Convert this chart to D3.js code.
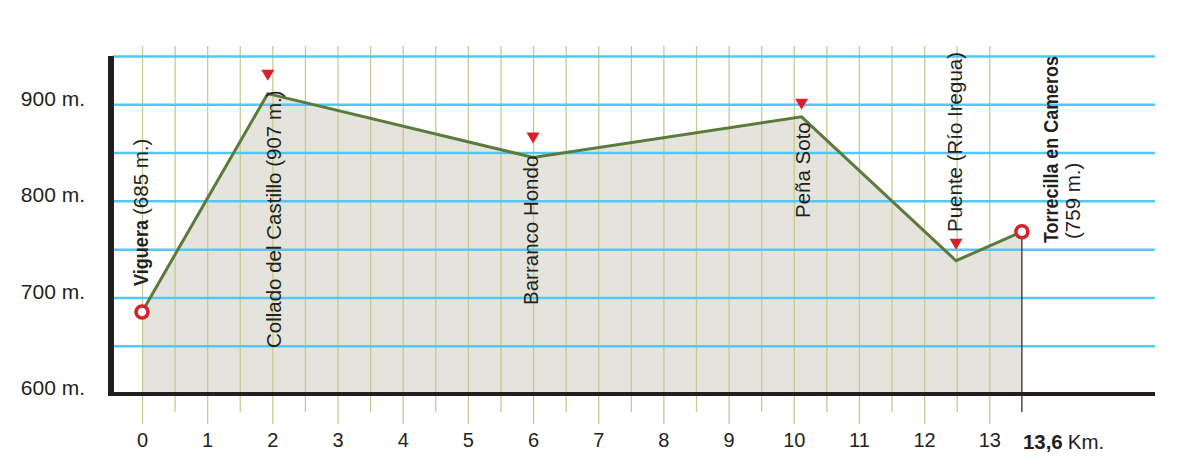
<!DOCTYPE html>
<html><head><meta charset="utf-8">
<script src="https://cdn.jsdelivr.net/npm/d3@7"></script>
<style>
html,body{margin:0;padding:0;background:#fff;}
text{font-family:"Liberation Sans",Arial,Helvetica,sans-serif;fill:#231f20;}
</style></head>
<body>
<svg id="c" width="1181" height="467"></svg>
<script>
// ---- data ----
const profileKm   = [0, 1.93, 6.0, 10.12, 12.49, 13.5];
const profileElev = [685, 911, 845, 887, 738, 768];
const xTicks      = [0,1,2,3,4,5,6,7,8,9,10,11,12,13];
const xMinorTicks = [0.5,1.5,2.5,3.5,4.5,5.5,6.5,7.5,8.5,9.5,10.5,11.5,12.5];
const yGridTicks  = [650,700,750,800,850,900,950];
const yLabelTicks = [600,700,800,900];
const endLabelBold = "13,6";
const endLabelUnit = " Km.";
const labelNames  = ["Viguera", "Collado del Castillo (907 m.)", "Barranco Hondo", "Peña Soto", "Puente (Río Iregua)", "Torrecilla en Cameros"];
const labelExtras = ["(685 m.)", "", "", "", "", "(759 m.)"];
const labelPoint  = [0, 1, 2, 3, 4, 5];          // index into profile
const markerKind  = ["circle","triangle","triangle","triangle","triangle","circle"];

// ---- layout (pixels, not data) ----
const layout = [
  {dx:5.5, y0:286, bold:true, len:66, gap:5},
  {dx:13,  y0:348},
  {dx:5,   y0:305},
  {dx:8.5, y0:218},
  {dx:6,   y0:232},
  {dx:36,  y0:243, bold:true, len:187, dx2:58, y2:239}
];
const triTip = [0,-13,-14,-7,-11,0];

const svg = d3.select("#c");
const x = d3.scaleLinear().domain([0,13]).range([142,989.3]);
const y = d3.scaleLinear().domain([600,950]).range([394,56]);
const pts = profileKm.map((k,i)=>({k, e:profileElev[i]}));
const lastK = profileKm[profileKm.length-1];
const FS = 20.5;

// fill area
svg.append("path")
  .datum(pts)
  .attr("fill","#e4e4dc")
  .attr("d", d3.area().x(d=>x(d.k)).y0(y(600)).y1(d=>y(d.e)));

// vertical gridlines (major) with labels
const gx = svg.append("g").attr("transform","translate(0,424)")
  .call(d3.axisBottom(x).tickValues(xTicks).tickSize(-(424-46)).tickPadding(9).tickFormat(d3.format("d")));
gx.select(".domain").remove();
gx.selectAll(".tick line").attr("stroke","#c3cb91").attr("stroke-width",1.3);
gx.selectAll(".tick text").attr("font-size",20).attr("font-family",null).attr("fill","#231f20");

// minor gridlines
const gm = svg.append("g").attr("transform","translate(0,412)")
  .call(d3.axisBottom(x).tickValues(xMinorTicks).tickSize(-(412-46)).tickFormat(""));
gm.select(".domain").remove();
gm.selectAll(".tick line").attr("stroke","#c3cb91").attr("stroke-width",1.3);

// horizontal blue gridlines
const gy = svg.append("g").attr("transform","translate(113,0)")
  .call(d3.axisLeft(y).tickValues(yGridTicks).tickSize(-(1155-113)).tickFormat(""));
gy.select(".domain").remove();
gy.selectAll(".tick line").attr("stroke","#55c7f0").attr("stroke-width",2.5);

// y labels
const gl = svg.append("g").attr("transform","translate(85,0)")
  .call(d3.axisLeft(y).tickValues(yLabelTicks).tickSize(0).tickPadding(0).tickFormat(d=>d+" m."));
gl.select(".domain").remove();
gl.selectAll(".tick text").attr("font-size",21).attr("font-family",null).attr("fill","#231f20").attr("dy","0.04em");

// axes lines
svg.append("rect").attr("x",108).attr("y",y(950)).attr("width",6).attr("height",396-y(950)).attr("fill","#231f20");
svg.append("rect").attr("x",108).attr("y",392).attr("width",1155-108).attr("height",4).attr("fill","#231f20");

// end line
svg.append("line").attr("x1",x(lastK)).attr("x2",x(lastK))
  .attr("y1",y(profileElev[profileElev.length-1])).attr("y2",412)
  .attr("stroke","#231f20").attr("stroke-width",1.2);

// end label
const et = svg.append("text").attr("x",x(lastK)+1).attr("y",448.5).attr("font-size",FS);
et.append("tspan").attr("font-weight","bold").text(endLabelBold);
et.append("tspan").attr("dx",5).text(endLabelUnit.trim());

// profile line
svg.append("path").datum(pts)
  .attr("fill","none").attr("stroke","#5b7a3c").attr("stroke-width",3).attr("stroke-linejoin","miter")
  .attr("d", d3.line().x(d=>x(d.k)).y(d=>y(d.e)));

// markers
markerKind.forEach((m,i)=>{
  const p = pts[labelPoint[i]];
  if(m==="circle"){
    svg.append("circle").attr("cx",x(p.k)).attr("cy",y(p.e)).attr("r",6)
      .attr("fill","#fff").attr("stroke","#d7202a").attr("stroke-width",3.5);
  } else {
    const tx = x(p.k), ty = y(p.e)+triTip[i];
    svg.append("path").attr("fill","#d7202a")
      .attr("d",`M${tx-6.5},${ty-11}L${tx+6.5},${ty-11}L${tx},${ty}Z`);
  }
});

// rotated labels
labelNames.forEach((name,i)=>{
  const p = pts[labelPoint[i]];
  const L = layout[i];
  const bx = x(p.k)+L.dx;
  const t = svg.append("text").attr("font-size",FS)
    .attr("transform",`translate(${bx},${L.y0}) rotate(-90)`)
    .text(name);
  if(L.bold){
    t.attr("font-weight","bold").attr("textLength",L.len).attr("lengthAdjust","spacingAndGlyphs");
  }
  if(labelExtras[i]){
    if(L.dx2===undefined){
      svg.append("text").attr("font-size",FS)
        .attr("transform",`translate(${bx},${L.y0-L.len-L.gap}) rotate(-90)`)
        .text(labelExtras[i]);
    } else {
      svg.append("text").attr("font-size",FS)
        .attr("transform",`translate(${x(p.k)+L.dx2},${L.y2}) rotate(-90)`)
        .text(labelExtras[i]);
    }
  }
});
</script>
</body></html>
